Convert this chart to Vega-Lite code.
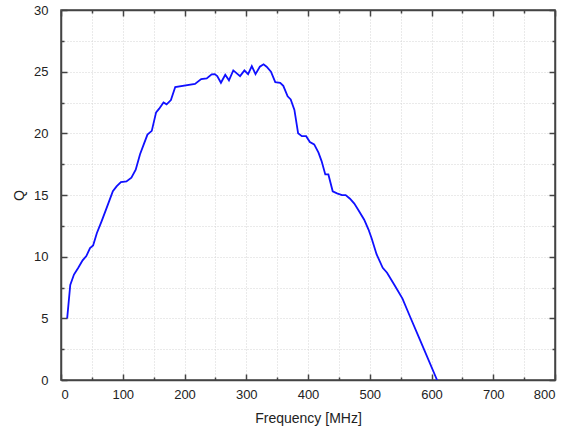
{
  "$schema": "https://vega.github.io/schema/vega-lite/v6.json",
  "width": 494,
  "height": 370,
  "autosize": {"type": "none"},
  "padding": {"left": 61, "top": 10, "right": 17, "bottom": 52},
  "background": "white",
  "config": {
    "view": {"stroke": "#444", "strokeWidth": 1.5},
    "axis": {
      "labelFont": "Liberation Sans",
      "titleFont": "Liberation Sans",
      "labelFontSize": 13,
      "titleFontSize": 14,
      "titleFontWeight": "normal",
      "labelColor": "#222",
      "titleColor": "#222",
      "domainColor": "#444",
      "domainWidth": 1.5,
      "tickColor": "#444",
      "tickWidth": 1.5,
      "gridColor": "#d4d4d4",
      "gridDash": [1, 2],
      "gridWidth": 1
    }
  },
  "data": {"values": [
    {"f": 10, "q": 5.0}, {"f": 15, "q": 7.7}, {"f": 21, "q": 8.55}, {"f": 28, "q": 9.1},
    {"f": 35, "q": 9.7}, {"f": 41, "q": 10.05}, {"f": 47, "q": 10.7}, {"f": 52, "q": 10.9},
    {"f": 58, "q": 11.9}, {"f": 66, "q": 12.9}, {"f": 75, "q": 14.1}, {"f": 84, "q": 15.3},
    {"f": 90, "q": 15.7}, {"f": 97, "q": 16.05}, {"f": 106, "q": 16.1}, {"f": 114, "q": 16.4},
    {"f": 121, "q": 17.05}, {"f": 128, "q": 18.3}, {"f": 134, "q": 19.1}, {"f": 140, "q": 19.9},
    {"f": 147, "q": 20.2}, {"f": 154, "q": 21.7}, {"f": 159, "q": 22.0}, {"f": 166, "q": 22.5},
    {"f": 171, "q": 22.35}, {"f": 178, "q": 22.7}, {"f": 185, "q": 23.75}, {"f": 217, "q": 24.0},
    {"f": 227, "q": 24.4}, {"f": 236, "q": 24.45}, {"f": 244, "q": 24.78}, {"f": 249, "q": 24.8},
    {"f": 253, "q": 24.64}, {"f": 259, "q": 24.1}, {"f": 266, "q": 24.75}, {"f": 272, "q": 24.3},
    {"f": 279, "q": 25.1}, {"f": 290, "q": 24.64}, {"f": 297, "q": 25.1}, {"f": 303, "q": 24.8},
    {"f": 309, "q": 25.45}, {"f": 315, "q": 24.8}, {"f": 322, "q": 25.4}, {"f": 328, "q": 25.6},
    {"f": 333, "q": 25.4}, {"f": 340, "q": 25.0}, {"f": 347, "q": 24.15}, {"f": 355, "q": 24.1},
    {"f": 360, "q": 23.85}, {"f": 367, "q": 23.0}, {"f": 372, "q": 22.75}, {"f": 378, "q": 21.9},
    {"f": 384, "q": 20.0}, {"f": 390, "q": 19.77}, {"f": 397, "q": 19.77}, {"f": 403, "q": 19.3},
    {"f": 410, "q": 19.1}, {"f": 417, "q": 18.43}, {"f": 422, "q": 17.75}, {"f": 428, "q": 16.67},
    {"f": 433, "q": 16.67}, {"f": 440, "q": 15.3}, {"f": 447, "q": 15.13}, {"f": 455, "q": 14.99},
    {"f": 461, "q": 14.99}, {"f": 468, "q": 14.7}, {"f": 475, "q": 14.3}, {"f": 482, "q": 13.75},
    {"f": 491, "q": 13.0}, {"f": 498, "q": 12.2}, {"f": 503, "q": 11.5}, {"f": 511, "q": 10.2},
    {"f": 521, "q": 9.1}, {"f": 528, "q": 8.7}, {"f": 540, "q": 7.7}, {"f": 553, "q": 6.6},
    {"f": 565, "q": 5.17}, {"f": 581, "q": 3.3}, {"f": 609, "q": 0}
  ]},
  "layer": [
    {
      "mark": {"type": "line", "color": "#1010ff", "strokeWidth": 1.8, "clip": true},
      "encoding": {
        "x": {
          "field": "f", "type": "quantitative",
          "scale": {"domain": [0, 800], "nice": false},
          "axis": {
            "orient": "bottom", "title": "Frequency [MHz]", "titlePadding": 10,
            "values": [0, 50, 100, 150, 200, 250, 300, 350, 400, 450, 500, 550, 600, 650, 700, 750, 800],
            "labelExpr": "datum.value % 100 === 0 ? datum.label : ''",
            "tickSize": {"condition": {"test": "datum.value % 100 === 0", "value": -6}, "value": -3},
            "labelPadding": 14, "grid": true
          }
        },
        "y": {
          "field": "q", "type": "quantitative",
          "scale": {"domain": [0, 30], "nice": false},
          "axis": {
            "orient": "left", "title": "Q", "titlePadding": 7,
            "values": [0, 2.5, 5, 7.5, 10, 12.5, 15, 17.5, 20, 22.5, 25, 27.5, 30],
            "labelExpr": "datum.value % 5 === 0 ? datum.label : ''",
            "tickSize": {"condition": {"test": "datum.value % 5 === 0", "value": -6}, "value": -3},
            "labelPadding": 19, "grid": true
          }
        }
      }
    },
    {
      "mark": {"type": "line", "strokeOpacity": 0},
      "encoding": {
        "x": {
          "field": "f", "type": "quantitative",
          "scale": {"domain": [0, 800], "nice": false},
          "axis": {
            "orient": "top", "title": null, "labels": false, "grid": false,
            "values": [0, 50, 100, 150, 200, 250, 300, 350, 400, 450, 500, 550, 600, 650, 700, 750, 800],
            "tickSize": {"condition": {"test": "datum.value % 100 === 0", "value": -6}, "value": -3}
          }
        },
        "y": {
          "field": "q", "type": "quantitative",
          "scale": {"domain": [0, 30], "nice": false},
          "axis": {
            "orient": "right", "title": null, "labels": false, "grid": false,
            "values": [0, 2.5, 5, 7.5, 10, 12.5, 15, 17.5, 20, 22.5, 25, 27.5, 30],
            "tickSize": {"condition": {"test": "datum.value % 5 === 0", "value": -6}, "value": -3}
          }
        }
      }
    }
  ],
  "resolve": {"axis": {"x": "independent", "y": "independent"}}
}
